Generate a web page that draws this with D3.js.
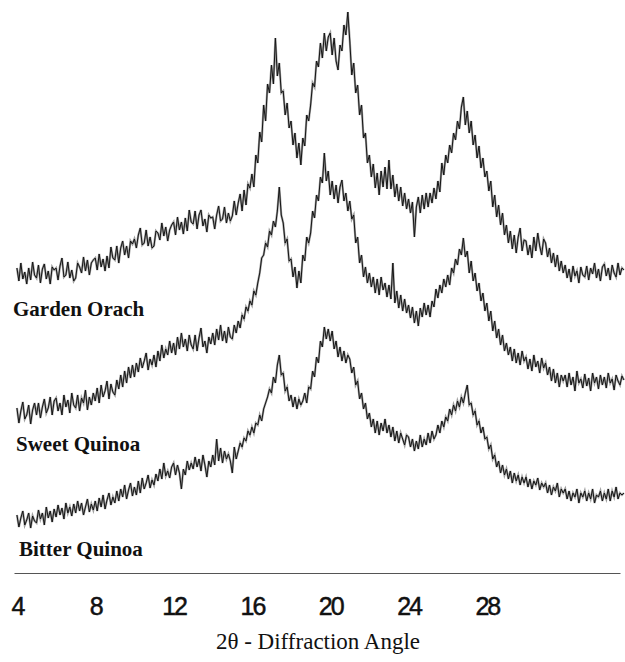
<!DOCTYPE html>
<html>
<head>
<meta charset="utf-8">
<script src="https://cdn.jsdelivr.net/npm/d3@7"></script>
<style>
  body { margin: 0; background: #fff; }
  svg { display: block; }
</style>
</head>
<body>
<svg width="625" height="662"></svg>
<script>
// scan grid: 2theta from 4.0 to 35.0 deg, 0.1 deg step
var scanStart = 4.0, scanStep = 0.1;

// intensities (a.u.), one per step
var gardenOrach = [
  305,292,310,294,301,289,305,293,311,298,
  295,308,290,304,309,294,302,289,306,303,
  305,293,307,315,296,298,311,295,303,292,
  295,310,306,300,316,302,313,298,310,313,
  315,303,319,306,314,302,317,305,326,315,
  313,327,310,325,332,318,327,315,332,329,
  334,325,338,345,328,330,343,327,336,325,
  327,342,340,333,350,337,346,332,343,348,
  351,338,356,343,351,339,355,342,363,351,
  349,362,344,358,363,347,354,341,358,355,
  356,344,358,367,352,354,366,350,360,352,
  357,372,358,370,379,362,383,368,389,385,
  399,386,418,410,441,431,468,452,489,480,
  508,489,535,497,510,480,482,458,470,445,
  452,428,440,415,430,408,435,427,458,452,
  468,490,486,512,506,530,515,540,522,536,
  540,518,535,512,503,528,522,548,538,561,
  532,498,510,480,488,458,468,435,440,410,
  418,396,409,385,400,378,402,386,406,384,
  413,384,398,376,389,372,386,367,380,364,
  374,360,371,336,366,376,360,378,364,380,
  366,380,370,385,374,392,381,410,398,418,
  410,428,420,440,433,452,444,466,476,448,
  462,440,452,428,438,415,427,405,415,396,
  402,382,392,366,378,356,368,348,360,338,
  348,330,342,324,338,320,336,345,322,333,
  332,318,328,315,336,322,340,327,318,334,
  330,316,325,310,320,306,318,302,312,300,
  308,295,304,291,307,297,302,290,306,298,
  296,307,293,305,299,310,295,304,292,306,
  309,297,305,293,308,300,296,310,298,305,
  303
];

var sweetQuinoa = [
  165,150,162,171,154,158,168,149,163,170,
  158,170,155,166,174,160,165,176,158,172,
  175,162,170,158,178,166,173,160,180,168,
  165,178,162,175,170,183,163,176,168,180,
  172,185,170,188,176,182,192,174,189,181,
  178,193,184,198,186,202,190,206,195,208,
  196,210,201,215,205,212,220,203,214,208,
  218,206,222,212,228,215,224,218,232,220,
  230,218,236,224,240,226,234,222,238,228,
  224,238,222,235,245,226,232,220,236,229,
  240,228,244,233,248,232,242,230,246,236,
  234,248,240,252,245,258,254,266,262,272,
  268,282,278,290,300,315,318,330,326,342,
  338,352,346,362,386,358,350,330,334,312,
  314,296,306,285,302,290,318,312,336,330,
  340,362,355,378,372,396,390,420,392,402,
  378,392,374,388,370,386,393,372,380,362,
  372,354,358,330,336,310,318,296,306,290,
  300,286,296,280,294,278,296,283,290,276,
  288,274,310,270,282,265,278,262,274,260,
  268,255,266,250,262,247,265,256,270,258,
  268,256,272,266,284,275,288,280,294,286,
  298,288,305,300,314,308,324,318,335,316,
  322,300,312,292,300,282,290,272,280,262,
  270,252,262,242,252,235,244,228,238,222,
  230,218,226,212,224,210,220,208,222,212,
  216,204,214,202,218,206,212,200,215,205,
  210,198,206,192,204,190,200,186,198,192,
  198,186,200,188,196,182,202,190,194,185,
  199,187,195,182,200,190,196,184,198,188,
  196,185,200,190,194,183,198,192,188,197,
  193
];

var bitterQuinoa = [
  58,46,55,62,48,53,60,45,57,52,
  50,63,54,60,48,66,55,62,51,64,
  56,68,58,65,54,70,60,66,57,69,
  60,72,62,70,58,66,74,61,69,63,
  72,62,75,66,78,64,73,80,68,76,
  70,82,72,84,76,88,74,83,90,77,
  86,78,92,80,95,84,90,98,85,93,
  88,99,92,104,94,110,97,102,95,106,
  110,98,108,100,84,104,98,112,103,110,
  104,116,106,114,102,118,108,96,112,106,
  118,108,134,112,125,110,122,114,119,112,
  100,126,114,122,130,126,135,132,142,138,
  146,140,150,148,158,152,164,170,176,184,
  180,196,190,208,218,198,200,182,186,172,
  178,166,176,164,174,168,172,180,170,186,
  184,202,196,216,210,232,226,246,234,244,
  232,242,224,232,216,226,212,222,210,218,
  214,200,206,188,192,174,180,164,170,154,
  160,146,154,140,152,138,150,142,154,140,
  148,136,146,132,142,130,140,134,128,138,
  136,126,134,122,132,124,138,126,134,128,
  140,130,142,134,138,148,140,152,146,156,
  152,164,158,168,162,172,166,176,170,180,
  188,168,170,158,162,148,152,140,146,134,
  136,124,128,114,118,106,112,100,108,98,
  104,94,102,90,100,92,98,88,96,90,
  96,86,94,84,92,88,95,83,90,86,
  90,80,88,78,86,82,90,76,84,80,
  84,74,82,72,80,76,84,70,80,76,
  82,72,80,74,84,70,78,76,82,72,
  80,74,84,72,82,76,86,74,80,78,
  80
];

var sampleNames = ["Garden Orach", "Sweet Quinoa", "Bitter Quinoa"];
var tickValues = [4, 8, 12, 16, 20, 24, 28];
var axisTitle = "2\u03b8 - Diffraction Angle";

var series = [gardenOrach, sweetQuinoa, bitterQuinoa];

var svg = d3.select("svg");

var x = d3.scaleLinear().domain([3.85, 34.8]).range([14, 620]);
var y = d3.scaleLinear().domain([0, 573]).range([573, 0]);

var line = d3.line()
    .x(function(d, i) { return x(scanStart + i * scanStep); })
    .y(function(d) { return y(d); });

// traces: soft gray under-stroke, dark hairline on top (scanned look)
var traces = svg.append("g").attr("class", "traces");

traces.selectAll("path.under")
  .data(series)
  .enter().append("path")
    .attr("class", "under")
    .attr("d", line)
    .attr("fill", "none")
    .attr("stroke", "#a0a0a0")
    .attr("stroke-width", 2.2);

traces.selectAll("path.top")
  .data(series)
  .enter().append("path")
    .attr("class", "top")
    .attr("d", line)
    .attr("fill", "none")
    .attr("stroke", "#151515")
    .attr("stroke-width", 1);

// sample labels
var labelPos = [[13, 316], [16, 451], [19, 556]];
svg.append("g")
  .selectAll("text")
  .data(sampleNames)
  .enter().append("text")
    .attr("x", function(d, i) { return labelPos[i][0]; })
    .attr("y", function(d, i) { return labelPos[i][1]; })
    .attr("font-family", "Liberation Serif, Times New Roman, serif")
    .attr("font-weight", "bold")
    .attr("font-size", 21)
    .attr("fill", "#111")
    .text(function(d) { return d; });

// x axis
var xAxis = d3.axisBottom(x)
    .tickValues(tickValues)
    .tickSize(0)
    .tickPadding(24)
    .tickFormat(d3.format("d"));

var gx = svg.append("g")
    .attr("transform", "translate(0,573)")
    .call(xAxis);

gx.select(".domain")
    .attr("stroke", "#555")
    .attr("stroke-width", 1);

gx.selectAll(".tick text")
    .attr("font-family", "Liberation Sans Narrow, Liberation Sans, Arial, sans-serif")
    .attr("font-size", 25)
    .attr("letter-spacing", "-2px")
    .attr("fill", "#111")
    .attr("stroke", "#111")
    .attr("stroke-width", 0.5);

svg.append("text")
    .attr("x", 318)
    .attr("y", 649)
    .attr("text-anchor", "middle")
    .attr("font-family", "Liberation Serif, Times New Roman, serif")
    .attr("font-size", 23)
    .attr("fill", "#111")
    .text(axisTitle);
</script>
</body>
</html>
